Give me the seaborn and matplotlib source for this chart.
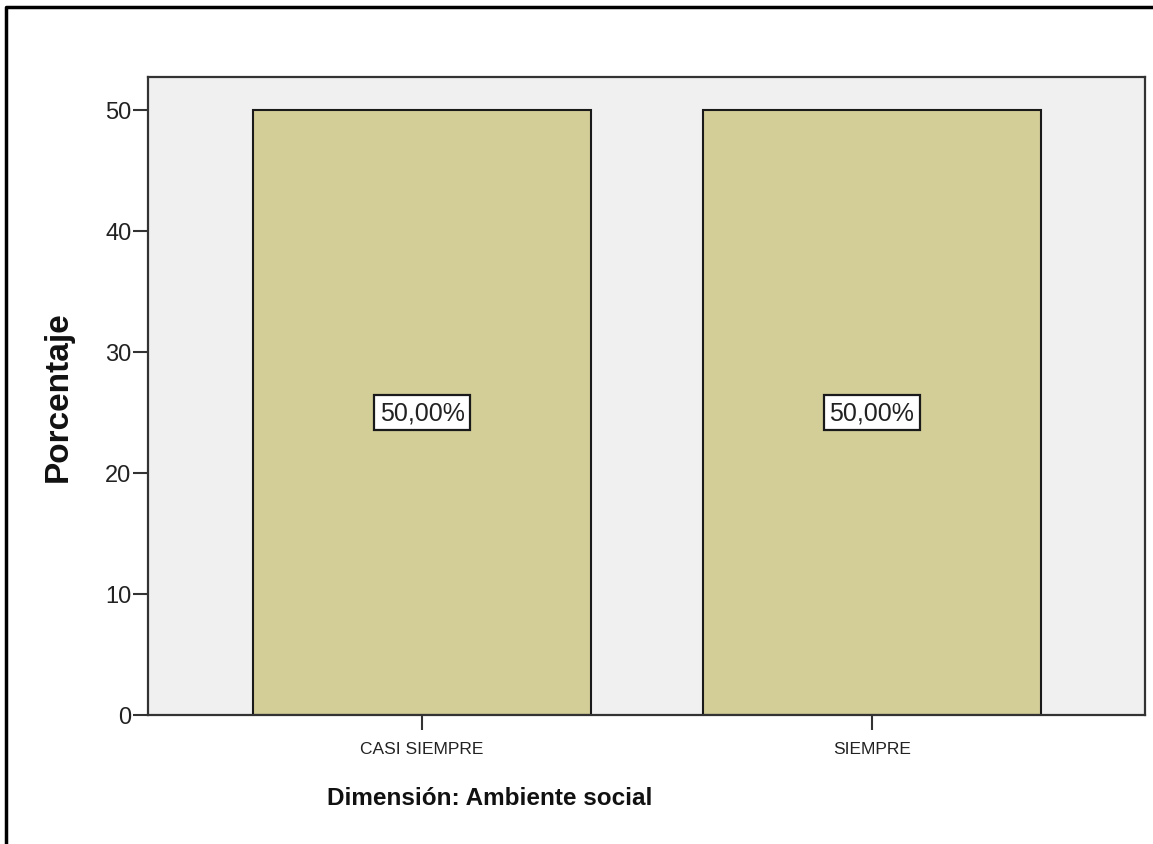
import seaborn as sns
import matplotlib.pyplot as plt
import pandas as pd
from matplotlib.lines import Line2D

categorias = ["CASI SIEMPRE", "SIEMPRE"]
porcentajes = [50.0, 50.0]
etiquetas = ["50,00%", "50,00%"]
y_ticks = [0, 10, 20, 30, 40, 50]

df = pd.DataFrame({"categoria": categorias, "porcentaje": porcentajes})

sns.set_theme(style="white")
plt.rcParams['font.family'] = ['Liberation Sans', 'DejaVu Sans']

fig = plt.figure(figsize=(11.53, 8.45), dpi=100)
ax = fig.add_axes([0.1284, 0.1527, 0.8647, 0.755])
ax.set_facecolor("#f0f0f0")

sns.barplot(data=df, x="categoria", y="porcentaje", color="#d3ce97",
            saturation=1, width=0.75, edgecolor="#1a1a1a", linewidth=1.5, ax=ax)

# etiquetas de valor en el centro de cada barra
for i, (v, t) in enumerate(zip(porcentajes, etiquetas)):
    ax.text(i, v / 2, t, ha="center", va="center", fontsize=18, color="#222222",
            bbox=dict(boxstyle="square,pad=0.22", facecolor="white",
                      edgecolor="#1a1a1a", linewidth=1.6))

ax.set_xlim(-0.609, 1.607)
ax.set_ylim(0, 52.7)
ax.set_yticks(y_ticks)
ax.tick_params(axis="y", length=11, width=1.5, color="#333333", pad=1,
               labelsize=17, labelcolor="#222222", left=True)
ax.tick_params(axis="x", length=11, width=1.5, color="#333333", pad=8,
               labelsize=12.5, labelcolor="#222222", bottom=True)

for s in ax.spines.values():
    s.set_color("#333333")
    s.set_linewidth(1.6)

ax.set_xlabel("Dimensión: Ambiente social", fontsize=17.5, fontweight="bold", color="#111111")
ax.xaxis.set_label_coords(0.343, -0.112)
ax.set_ylabel("Porcentaje", fontsize=24, fontweight="bold", color="#111111")
ax.yaxis.set_label_coords(-0.09, 0.5)
ax.yaxis.label.set_va("center")

# marco exterior (solo arriba e izquierda, como en la imagen recortada)
fig.add_artist(Line2D([6 / 1153, 6 / 1153, 1], [0, 1 - 8 / 845, 1 - 8 / 845],
                      transform=fig.transFigure, color="black", linewidth=2.5))

fig.savefig("out.png", dpi=100, facecolor="white")
